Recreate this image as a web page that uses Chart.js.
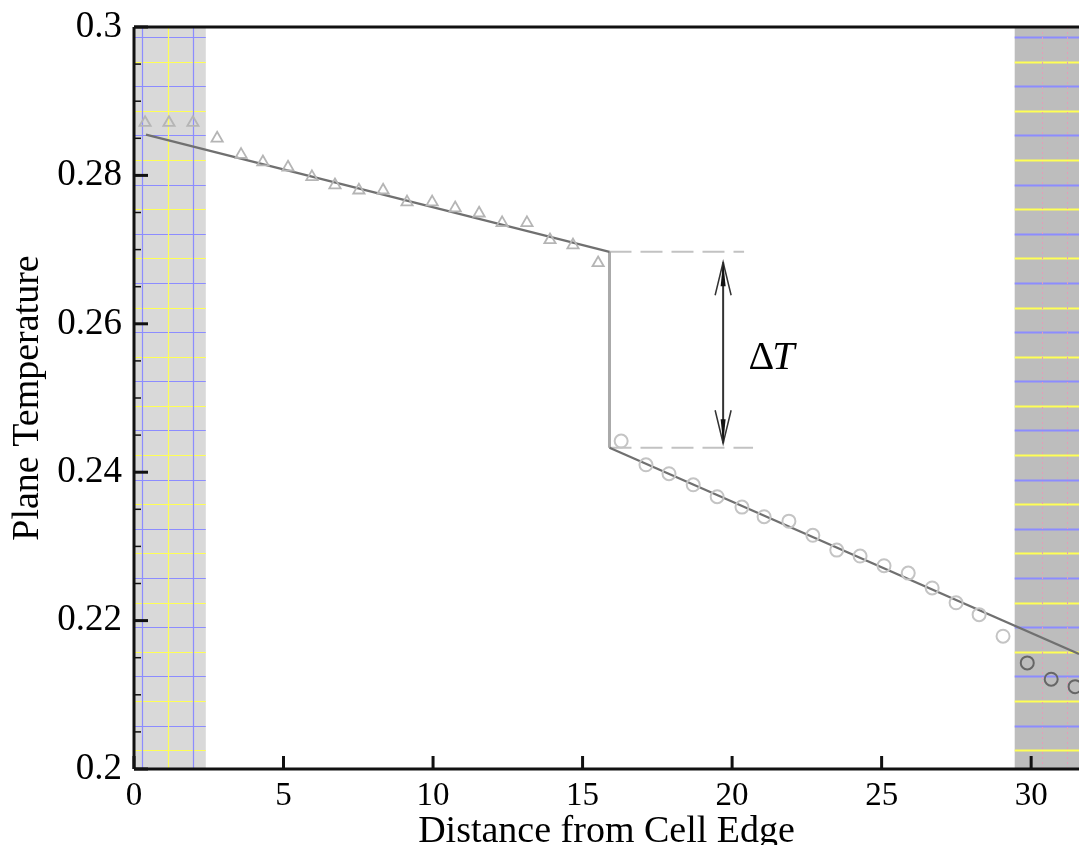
<!DOCTYPE html>
<html>
<head>
<meta charset="utf-8">
<script src="https://cdn.jsdelivr.net/npm/chart.js"></script>
<style>
  html, body { margin: 0; padding: 0; background: #fff; overflow: hidden; }
  #wrap { width: 1079px; height: 845px; position: relative; }
  canvas { display: block; }
</style>
</head>
<body>
<div id="wrap"><canvas id="c" width="1079" height="845"></canvas></div>
<script>
// left slab samples (triangles)
const triX = [0.37, 1.17, 1.97, 2.78, 3.58, 4.31, 5.15, 5.95, 6.72, 7.52, 8.33, 9.13, 9.97, 10.74, 11.54, 12.31, 13.14, 13.91, 14.68, 15.52];
const triT = [0.2871, 0.2871, 0.2871, 0.2850, 0.2828, 0.2818, 0.2811, 0.2798, 0.2787, 0.2780, 0.2780, 0.2764, 0.2764, 0.2756, 0.2749, 0.2736, 0.2736, 0.2713, 0.2706, 0.2682];

// right slab samples (circles)
const circX = [16.29, 17.12, 17.89, 18.70, 19.50, 20.33, 21.07, 21.90, 22.70, 23.50, 24.28, 25.08, 25.89, 26.69, 27.49, 28.26, 29.06, 29.87, 30.67, 31.47];
const circT = [0.2442, 0.2410, 0.2398, 0.2383, 0.2367, 0.2353, 0.2340, 0.2334, 0.2315, 0.2295, 0.2287, 0.2274, 0.2264, 0.2244, 0.2224, 0.2208, 0.2179, 0.2143, 0.2121, 0.2111];

// linear fits and the jump at the interface
const fitLeftX = [0.4, 15.9];
const fitLeftT = [0.2855, 0.2697];
const fitRightX = [15.9, 31.6];
const fitRightT = [0.2433, 0.2155];
const jumpX = 15.9;
const refEndX = [20.4, 20.7];     // ends of the dashed reference lines
const arrowX = 19.7;
const arrowT = [0.2683, 0.2439];
const deltaLabel = { x: 20.55, y: 0.2553, text: 'T' };

// reservoir bands
const leftBand = [0, 2.4];
const rightBand = [29.45, 31.6];
const bandVLines = [0.27, 1.14, 1.97];
const bandVLinesRight = [30.37, 31.2];
const latticeTop = 0.29865;
const latticeStep = 0.003314;

const xTicks = [0, 5, 10, 15, 20, 25, 30];
const yMinorTicks = [0.205, 0.21, 0.215, 0.225, 0.23, 0.235, 0.245, 0.25, 0.255, 0.265, 0.27, 0.275, 0.285, 0.29, 0.295];

const BLUE = '#8c8cff', YELLOW = '#ffff55';

const pts = (xs, ys) => xs.map((x, i) => ({ x, y: ys[i] }));

const decor = {
  id: 'decor',
  beforeDatasetsDraw(chart) {
    const { ctx, chartArea: a, scales: { x, y } } = chart;
    ctx.save();
    ctx.beginPath();
    ctx.rect(a.left, a.top, a.right - a.left, a.bottom - a.top);
    ctx.clip();
    const bands = [[leftBand, '#d9d9d9', bandVLines, 1.2], [rightBand, '#bdbdbd', [], 2]];
    bands.forEach(([b, fill, vl, lw]) => {
      const x0 = x.getPixelForValue(b[0]), x1 = x.getPixelForValue(b[1]);
      ctx.fillStyle = fill;
      ctx.fillRect(x0, a.top, x1 - x0, a.bottom - a.top);
      // lattice planes
      let k = 0;
      for (let v = latticeTop; v > y.min; v -= latticeStep, k++) {
        const py = Math.round(y.getPixelForValue(v)) + 0.5;
        ctx.strokeStyle = k % 2 === 0 ? BLUE : YELLOW;
        ctx.lineWidth = lw;
        ctx.beginPath(); ctx.moveTo(x0, py); ctx.lineTo(x1, py); ctx.stroke();
      }
      vl.forEach((v, i) => {
        const px = Math.round(x.getPixelForValue(v)) + 0.5;
        ctx.strokeStyle = i === 1 ? YELLOW : BLUE;
        ctx.lineWidth = 1.2;
        ctx.beginPath(); ctx.moveTo(px, a.top); ctx.lineTo(px, a.bottom); ctx.stroke();
      });
    });
    bandVLinesRight.forEach(v => {
      const px = Math.round(x.getPixelForValue(v)) + 0.5;
      ctx.strokeStyle = '#e89ab8';
      ctx.lineWidth = 1;
      ctx.setLineDash([2, 3]);
      ctx.beginPath(); ctx.moveTo(px, a.top); ctx.lineTo(px, a.bottom); ctx.stroke();
    });
    ctx.restore();
  },
  afterDraw(chart) {
    const { ctx, chartArea: a, scales: { x, y } } = chart;
    ctx.save();
    ctx.strokeStyle = '#111';
    // frame: left, bottom, top
    ctx.lineWidth = 3;
    ctx.beginPath();
    ctx.moveTo(a.left, a.top); ctx.lineTo(a.right, a.top);
    ctx.moveTo(a.left, a.top); ctx.lineTo(a.left, a.bottom);
    ctx.moveTo(a.left, a.bottom); ctx.lineTo(a.right, a.bottom);
    ctx.stroke();
    // inward ticks
    ctx.lineWidth = 3;
    x.ticks.forEach(t => {
      const px = x.getPixelForValue(t.value);
      ctx.beginPath(); ctx.moveTo(px, a.bottom); ctx.lineTo(px, a.bottom - 13); ctx.stroke();
    });
    y.ticks.forEach(t => {
      const py = y.getPixelForValue(t.value);
      ctx.beginPath(); ctx.moveTo(a.left, py); ctx.lineTo(a.left + 14, py); ctx.stroke();
    });
    ctx.lineWidth = 1.5;
    yMinorTicks.forEach(v => {
      const py = y.getPixelForValue(v);
      ctx.beginPath(); ctx.moveTo(a.left, py); ctx.lineTo(a.left + 7, py); ctx.stroke();
    });
    // double arrow
    const ax = x.getPixelForValue(arrowX);
    const yTop = y.getPixelForValue(arrowT[0]), yBot = y.getPixelForValue(arrowT[1]);
    ctx.strokeStyle = '#333';
    ctx.fillStyle = '#111';
    ctx.lineWidth = 2;
    ctx.beginPath(); ctx.moveTo(ax, yTop); ctx.lineTo(ax, yBot); ctx.stroke();
    [[yTop, 1], [yBot, -1]].forEach(([ty, d]) => {
      ctx.lineWidth = 1.5;
      ctx.beginPath();
      ctx.moveTo(ax - 8, ty + d * 33); ctx.lineTo(ax, ty); ctx.lineTo(ax + 8, ty + d * 33);
      ctx.stroke();
      ctx.beginPath();
      ctx.moveTo(ax, ty); ctx.lineTo(ax - 2.5, ty + d * 24); ctx.lineTo(ax + 2.5, ty + d * 24);
      ctx.closePath(); ctx.fill();
    });
    // delta T label
    const lx = x.getPixelForValue(deltaLabel.x), ly = y.getPixelForValue(deltaLabel.y);
    ctx.fillStyle = '#000';
    ctx.textBaseline = 'middle';
    ctx.font = '40px "Liberation Serif"';
    ctx.fillText('\u0394', lx, ly);
    const w = ctx.measureText('\u0394').width;
    ctx.font = 'italic 40px "Liberation Serif"';
    ctx.fillText(deltaLabel.text, lx + w - 2, ly);
    ctx.restore();
  }
};

Chart.defaults.font.family = '"Liberation Serif", "Times New Roman", serif';
Chart.defaults.color = '#000';

const circColors = circX.map(v => v >= rightBand[0] ? '#666' : '#c4c4c4');

new Chart(document.getElementById('c'), {
  type: 'scatter',
  data: {
    datasets: [
      {
        data: pts(triX, triT),
        pointStyle: 'triangle', pointRadius: 6.5, borderWidth: 1.8,
        borderColor: '#b5b5b5', backgroundColor: 'rgba(0,0,0,0)', showLine: false
      },
      {
        data: pts(circX, circT),
        pointStyle: 'circle', pointRadius: 6.5, borderWidth: 2,
        borderColor: circColors, pointBorderColor: circColors, backgroundColor: 'rgba(0,0,0,0)', showLine: false
      },
      {
        type: 'line', data: pts(fitLeftX, fitLeftT),
        borderColor: '#707070', borderWidth: 2.2, pointRadius: 0
      },
      {
        type: 'line', data: pts(fitRightX, fitRightT),
        borderColor: '#707070', borderWidth: 2.2, pointRadius: 0
      },
      {
        type: 'line', data: [{ x: jumpX, y: fitLeftT[1] }, { x: jumpX, y: fitRightT[0] }],
        borderColor: '#aaaaaa', borderWidth: 3, pointRadius: 0
      },
      {
        type: 'line', data: [{ x: jumpX, y: fitLeftT[1] }, { x: refEndX[0], y: fitLeftT[1] }],
        borderColor: '#c2c2c2', borderWidth: 2, borderDash: [22, 9], pointRadius: 0
      },
      {
        type: 'line', data: [{ x: jumpX, y: fitRightT[0] }, { x: refEndX[1], y: fitRightT[0] }],
        borderColor: '#c2c2c2', borderWidth: 2, borderDash: [22, 9], pointRadius: 0
      }
    ]
  },
  options: {
    responsive: false,
    animation: false,
    layout: { autoPadding: false, padding: { top: 27, right: 0, left: 0, bottom: 0 } },
    plugins: { legend: { display: false }, tooltip: { enabled: false } },
    scales: {
      x: {
        type: 'linear', min: 0, max: 31.6,
        afterBuildTicks: s => { s.ticks = xTicks.map(v => ({ value: v })); },
        afterFit: s => { s.height = 76; s.paddingLeft = 0; s.paddingRight = 0; },
        grid: { display: false, drawTicks: false },
        border: { display: false },
        ticks: { padding: 8, font: { size: 33 }, callback: v => String(v) },
        title: { display: true, text: 'Distance from Cell Edge', font: { size: 38, lineHeight: 1 }, padding: { top: 0, bottom: -6 } }
      },
      y: {
        type: 'linear', min: 0.2, max: 0.3,
        ticks: { stepSize: 0.02, padding: 12, font: { size: 37 }, callback: v => String(+v.toFixed(2)) },
        afterFit: s => { s.width = 134; s.paddingTop = 0; s.paddingBottom = 0; },
        grid: { display: false, drawTicks: false },
        border: { display: false },
        title: { display: true, text: 'Plane Temperature', font: { size: 38, lineHeight: 1 }, padding: { top: 9, bottom: 0 } }
      }
    }
  },
  plugins: [decor]
});
</script>
</body>
</html>
